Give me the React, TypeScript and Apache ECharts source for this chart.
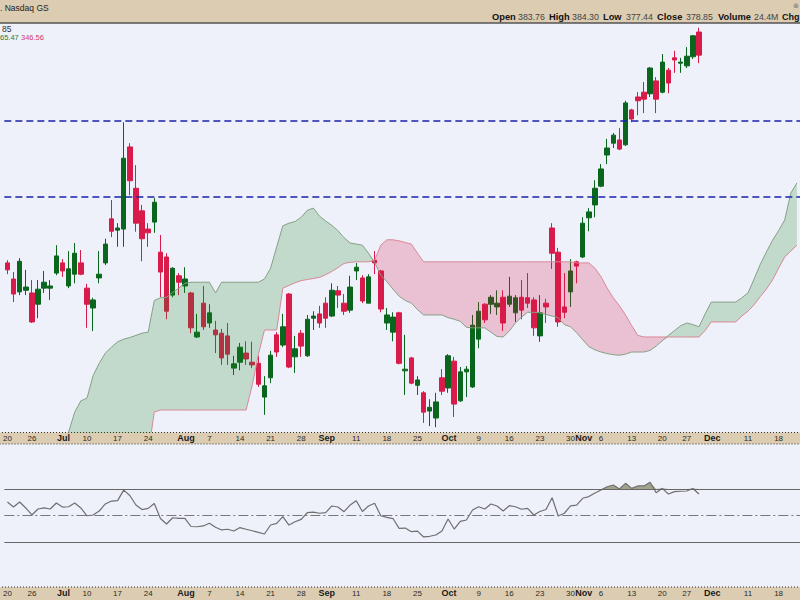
import { useEffect, useRef } from 'react';
import * as echarts from 'echarts';

const START = '2023-06-20';
const END = '2023-12-21';
const HOLIDAYS = ['2023-07-04', '2023-09-04', '2023-11-23'];

// [open, close, low, high]
const OHLC: number[][] = [
  [340.5, 339.2, 338.4, 341.0], [337.5, 334.7, 333.2, 338.8], [335.1, 340.8, 334.5, 341.4], [335.4, 336.0, 334.5, 339.2],
  [334.9, 329.5, 329.3, 337.3], [332.8, 335.6, 330.2, 337.3], [335.8, 336.9, 334.9, 339.0], [335.8, 336.2, 333.6, 337.3],
  [338.6, 341.8, 338.2, 343.8], [340.5, 339.0, 337.9, 341.2], [336.2, 339.4, 335.8, 342.7], [338.4, 342.3, 336.7, 344.2],
  [340.5, 338.4, 338.2, 342.9], [335.8, 332.8, 328.4, 336.6], [332.1, 333.6, 327.8, 334.0], [337.7, 338.4, 336.7, 342.7],
  [340.5, 344.0, 340.1, 345.0], [348.7, 346.4, 345.3, 352.2], [346.6, 347.0, 343.5, 347.9], [346.8, 360.0, 343.5, 366.7],
  [362.1, 355.8, 353.1, 362.8], [354.4, 347.9, 346.3, 358.7], [350.2, 345.0, 340.8, 351.3], [346.8, 346.1, 343.5, 347.9],
  [348.1, 351.8, 346.1, 352.6], [342.5, 338.8, 334.1, 345.7], [341.6, 331.5, 330.0, 342.3], [334.5, 339.5, 334.1, 339.7],
  [338.1, 336.9, 334.5, 338.6], [336.2, 337.5, 334.9, 339.7], [334.9, 328.4, 327.4, 335.1], [326.7, 327.6, 326.5, 331.0],
  [333.0, 328.6, 328.0, 336.2], [329.3, 331.2, 328.4, 332.8], [328.0, 327.1, 323.7, 329.7], [327.4, 322.8, 321.5, 328.2],
  [326.9, 323.5, 321.5, 329.3], [320.9, 321.7, 319.6, 323.2], [322.0, 324.8, 320.5, 325.6], [323.7, 322.6, 321.5, 325.9],
  [322.0, 321.5, 320.9, 325.8], [321.8, 317.9, 317.4, 323.2], [315.5, 317.6, 312.2, 319.4], [319.1, 323.3, 318.1, 324.1],
  [327.1, 323.9, 323.0, 327.6], [325.2, 328.6, 324.8, 331.0], [334.7, 321.1, 320.9, 334.9], [323.0, 324.5, 320.0, 326.9],
  [327.4, 325.0, 323.0, 328.0], [323.2, 330.0, 323.0, 330.8], [330.2, 330.6, 328.0, 331.5], [331.0, 329.3, 328.4, 332.5],
  [333.0, 330.2, 328.4, 334.1], [330.6, 335.4, 330.4, 336.7], [335.3, 334.5, 332.1, 336.2], [333.0, 331.5, 330.8, 334.7],
  [331.7, 336.0, 331.2, 338.1], [339.0, 339.7, 337.3, 340.5], [337.7, 333.4, 333.0, 338.2], [333.0, 337.9, 333.0, 338.4],
  [341.0, 340.5, 338.4, 342.7], [339.0, 331.9, 331.3, 339.2], [329.3, 330.8, 328.0, 332.1], [327.6, 330.4, 325.9, 331.3],
  [331.2, 321.8, 321.6, 331.4], [320.4, 320.7, 315.9, 327.1], [322.8, 318.1, 317.9, 323.0], [317.7, 318.7, 315.9, 319.4],
  [316.3, 312.7, 310.7, 316.6], [312.9, 313.6, 310.1, 315.1], [311.6, 314.6, 309.9, 316.3], [319.1, 316.6, 315.9, 320.7],
  [317.2, 323.2, 316.3, 323.5], [322.2, 314.2, 311.8, 323.0], [314.8, 320.2, 314.6, 321.1], [320.2, 320.7, 315.5, 321.3],
  [317.4, 328.9, 317.2, 330.8], [326.3, 331.5, 324.6, 333.2], [332.8, 329.9, 329.3, 333.0], [332.8, 334.1, 331.0, 334.5],
  [332.3, 333.0, 330.8, 335.4], [334.1, 329.3, 327.8, 335.4], [332.8, 334.3, 332.3, 337.9], [331.2, 334.0, 329.5, 334.5],
  [334.1, 331.7, 330.0, 337.3], [334.0, 333.0, 332.1, 338.6], [333.6, 328.4, 326.9, 334.1], [326.9, 331.2, 325.8, 334.5],
  [333.0, 332.3, 329.3, 333.8], [347.0, 342.3, 339.4, 347.9], [342.5, 329.5, 328.6, 343.3], [332.3, 331.3, 330.2, 338.6],
  [335.1, 339.0, 332.3, 341.2], [340.7, 339.9, 336.7, 340.9], [341.6, 347.9, 341.4, 349.0], [348.9, 350.0, 346.4, 350.7],
  [351.3, 354.4, 349.0, 355.9], [354.8, 358.0, 354.6, 358.9], [360.6, 361.9, 358.9, 363.6], [362.8, 364.3, 361.9, 364.7],
  [363.4, 361.7, 361.5, 365.6], [362.5, 370.3, 362.3, 370.7], [369.0, 367.3, 366.7, 369.2], [371.4, 370.7, 368.0, 372.3],
  [372.3, 371.0, 368.4, 374.2], [372.0, 376.8, 371.4, 377.0], [374.4, 371.0, 368.4, 375.1], [372.3, 377.9, 372.1, 379.4],
  [376.4, 374.0, 372.1, 376.8], [378.7, 378.3, 375.9, 380.0], [377.7, 377.9, 375.9, 378.7], [377.2, 379.0, 376.8, 380.7],
  [378.9, 382.8, 378.5, 382.9], [383.5, 379.2, 377.7, 384.3],
];

const SPAN_A: number[] = [
  298, 299, 300, 301, 302, 303, 304, 305, 306, 307.5,
  309.0, 312.7, 314.8, 315.3, 319.5, 321.8, 323.7, 324.8, 325.8, 326.3,
  326.6, 327.0, 327.4, 327.6, 333.5, 334.0, 334.1, 335.0, 335.8, 336.7,
  336.9, 336.9, 336.9, 336.9, 334.9, 336.9, 336.9, 336.9, 336.9, 336.9,
  336.9, 336.9, 337.5, 339.5, 343.5, 347.4, 347.9, 348.2, 349.0, 350.3,
  350.7, 349.2, 348.3, 347.5, 346.5, 345.2, 344.2, 344.0, 343.8, 342.3,
  340.6, 338.2, 337.0, 335.6, 334.3, 333.5, 333.0, 331.8, 330.8, 330.8,
  330.8, 330.8, 330.3, 330.0, 329.6, 328.5, 328.4, 328.4, 328.4, 327.6,
  326.8, 326.7, 327.8, 329.3, 330.4, 331.3, 331.3, 331.2, 330.9, 330.6,
  330.3, 329.0, 328.6, 327.5, 326.2, 324.9, 324.3, 323.9, 323.6, 323.4,
  323.3, 323.5, 323.9, 323.9, 323.9, 324.2, 325.0, 326.0, 327.0, 327.9,
  328.8, 329.3, 329.0, 328.6, 331.0, 333.2, 333.2, 333.2, 333.2, 333.2,
  334.0, 334.9, 337.5, 340.2, 342.5, 344.7, 346.5, 348.5, 353.5, 355.4,
];

const SPAN_B: number[] = [
  295, 295, 295, 295, 295, 295, 295, 295, 295, 295,
  295, 295, 295, 295, 295, 295, 295, 295, 295, 295,
  295, 295, 295, 305, 312.7, 313.1, 313.1, 313.1, 313.1, 313.1,
  313.1, 313.1, 313.1, 313.1, 313.1, 313.1, 313.1, 313.1, 313.1, 313.1,
  317.7, 323.4, 328.0, 328.0, 328.0, 335.8, 336.3, 336.8, 337.2, 337.4,
  337.6, 337.8, 338.3, 338.9, 339.6, 340.4, 340.6, 340.7, 340.7, 340.7,
  341.0, 343.8, 344.8, 344.8, 344.6, 344.3, 344.0, 342.3, 340.7, 340.7,
  340.7, 340.7, 340.7, 340.7, 340.7, 340.7, 340.7, 340.7, 340.7, 340.7,
  340.7, 340.7, 340.7, 340.7, 340.7, 340.7, 340.7, 340.7, 340.7, 340.7,
  340.7, 340.7, 340.7, 340.5, 340.5, 340.5, 339.5, 337.9, 335.8, 334.0,
  332.5, 330.8, 328.8, 327.0, 326.7, 326.7, 326.7, 326.7, 326.7, 326.7,
  326.7, 326.7, 326.7, 326.7, 327.9, 329.5, 329.5, 329.5, 329.5, 329.5,
  330.6, 331.5, 332.7, 334.2, 335.6, 337.3, 339.5, 341.6, 342.7, 343.8,
];

const RSI: number[] = [
  60.2, 56.4, 60.2, 55.7, 50.4, 54.9, 55.7, 54.9, 59.4, 56.4,
  56.6, 59.4, 55.7, 49.8, 50.4, 53.4, 58.7, 60.9, 61.2, 69.2,
  65.1, 57.9, 54.5, 55.4, 59.1, 47.7, 43.6, 48.3, 47.9, 47.9,
  41.7, 41.5, 42.1, 44.1, 41.1, 39.1, 39.6, 38.3, 40.9, 39.6,
  38.5, 37.2, 36.0, 42.8, 44.1, 49.1, 42.8, 45.3, 47.1, 52.1,
  52.6, 51.7, 52.1, 57.2, 56.4, 52.9, 57.9, 61.2, 53.0, 57.2,
  59.2, 49.8, 48.6, 47.7, 40.3, 40.5, 37.8, 38.2, 33.8, 34.3,
  35.3, 38.3, 47.4, 39.8, 45.6, 46.6, 54.2, 56.6, 54.9, 58.7,
  57.2, 53.4, 57.4, 56.6, 54.7, 55.4, 50.4, 53.0, 54.5, 63.4,
  49.6, 51.7, 57.2, 57.9, 63.0, 64.3, 67.0, 69.2, 71.7, 73.0,
  70.0, 74.3, 70.5, 72.3, 72.3, 75.1, 67.2, 70.5, 66.2, 68.0,
  68.3, 68.5, 70.4, 66.2,
];

const LEVELS: number[] = [366.9, 352.8];
const RSI_LINES: number[] = [70, 50, 30];

const TICK_LABELS: [string, string][] = [
  ['2023-06-20', '20'], ['2023-06-26', '26'], ['2023-07-03', 'Jul'], ['2023-07-10', '10'],
  ['2023-07-17', '17'], ['2023-07-24', '24'], ['2023-08-01', 'Aug'], ['2023-08-07', '7'],
  ['2023-08-14', '14'], ['2023-08-21', '21'], ['2023-08-28', '28'], ['2023-09-01', 'Sep'],
  ['2023-09-11', '11'], ['2023-09-18', '18'], ['2023-09-25', '25'], ['2023-10-02', 'Oct'],
  ['2023-10-09', '9'], ['2023-10-16', '16'], ['2023-10-23', '23'], ['2023-10-30', '30'],
  ['2023-11-01', 'Nov'], ['2023-11-06', '6'], ['2023-11-13', '13'], ['2023-11-20', '20'],
  ['2023-11-27', '27'], ['2023-12-01', 'Dec'], ['2023-12-11', '11'], ['2023-12-18', '18'],
];
const MONTHS = ['Jul', 'Aug', 'Sep', 'Oct', 'Nov', 'Dec'];

const HEADER_ITEMS: [string, string][] = [
  ['Open', '383.76'], ['High', '384.30'], ['Low', '377.44'], ['Close', '378.85'], ['Volume', '24.4M'],
];

function tradingDays(): string[] {
  const out: string[] = [];
  const d = new Date(START + 'T00:00:00Z');
  const end = new Date(END + 'T00:00:00Z');
  while (d <= end) {
    const s = d.toISOString().slice(0, 10);
    const wd = d.getUTCDay();
    if (wd !== 0 && wd !== 6 && !HOLIDAYS.includes(s)) out.push(s);
    d.setUTCDate(d.getUTCDate() + 1);
  }
  return out;
}

const FONT = '"Liberation Sans", Arial, sans-serif';
const TAN = '#dccdb2';
const BG = '#eef0fa';
const GREEN = '#0a661c';
const RED = '#d81b4a';

export default function App() {
  const ref = useRef<HTMLDivElement>(null);
  useEffect(() => {
    const chart = echarts.init(ref.current!, null, { renderer: 'svg' });
    const dates = tradingDays();
    const labelMap = new Map(TICK_LABELS);
    const cloudBase = SPAN_A.map((a, i) => Math.min(a, SPAN_B[i]));
    const greenD = SPAN_A.map((a, i) => Math.max(a - SPAN_B[i], 0));
    const redD = SPAN_A.map((a, i) => Math.max(SPAN_B[i] - a, 0));
    const rsiBase = RSI.map(() => 70);
    const rsiOver = RSI.map((v) => Math.max(v - 70, 0));

    const bandW = 6.207;
    const gridLeft = -4.5;
    const gridWidth = dates.length * bandW;

    const axisLabel = {
      interval: 0,
      margin: 6,
      verticalAlign: 'middle',
      formatter: (v: string) => {
        const t = labelMap.get(v);
        if (!t) return '';
        return MONTHS.includes(t) ? `{b|${t}}` : `{n|${t}}`;
      },
      rich: {
        b: { fontFamily: FONT, fontSize: 9, fontWeight: 'bold', color: '#1a1a1a', padding: [0, 0, 0, 2] },
        n: { fontFamily: FONT, fontSize: 8, color: '#2a2a2a' },
      },
    };

    const hidden = { lineStyle: { opacity: 0 }, symbol: 'none', silent: true };

    const headerTexts: any[] = [];
    const headerX = [[492, 518], [549, 572], [603, 626], [657, 686], [718, 754]];
    HEADER_ITEMS.forEach(([lab, val], i) => {
      headerTexts.push({
        type: 'text', x: headerX[i][0], y: 17, z: 20,
        style: { text: lab, fontFamily: FONT, fontSize: 9.3, fontWeight: 'bold', fill: '#111', verticalAlign: 'middle' },
      });
      headerTexts.push({
        type: 'text', x: headerX[i][1], y: 17, z: 20,
        style: { text: val, fontFamily: FONT, fontSize: 8.8, fill: '#444', verticalAlign: 'middle' },
      });
    });
    headerTexts.push({
      type: 'text', x: 782, y: 17, z: 20,
      style: { text: 'Chg', fontFamily: FONT, fontSize: 9, fontWeight: 'bold', fill: '#111', verticalAlign: 'middle' },
    });

    chart.setOption({
      animation: false,
      backgroundColor: BG,
      grid: [
        { left: gridLeft, top: 24, width: gridWidth, height: 408 },
        { left: gridLeft, top: 444, width: gridWidth, height: 143 },
      ],
      xAxis: [
        { type: 'category', gridIndex: 0, data: dates, boundaryGap: true, axisLine: { show: false }, axisTick: { show: false }, splitLine: { show: false }, axisLabel, z: 10 },
        { type: 'category', gridIndex: 1, data: dates, boundaryGap: true, axisLine: { show: false }, axisTick: { show: false }, splitLine: { show: false }, axisLabel, z: 10 },
      ],
      yAxis: [
        { type: 'value', gridIndex: 0, min: 309, max: 385, show: false, splitLine: { show: false } },
        { type: 'value', gridIndex: 1, min: -4, max: 104, show: false, splitLine: { show: false } },
      ],
      graphic: [
        { type: 'rect', z: -1, shape: { x: 0, y: 0, width: 800, height: 23 }, style: { fill: TAN } },
        { type: 'line', z: -1, shape: { x1: 0, y1: 23, x2: 800, y2: 23 }, style: { stroke: '#555', lineWidth: 1.5 } },
        { type: 'rect', z: -1, shape: { x: -1, y: 432.5, width: 802, height: 11.5 }, style: { fill: TAN, stroke: '#333', lineWidth: 1, lineDash: [1, 2] } },
        { type: 'rect', z: -1, shape: { x: -1, y: 587, width: 802, height: 14 }, style: { fill: TAN, stroke: '#333', lineWidth: 1, lineDash: [1, 2] } },
        { type: 'text', x: 0, y: 8, z: 20, style: { text: '. Nasdaq GS', fontFamily: FONT, fontSize: 8.5, fill: '#222', verticalAlign: 'middle' } },
        { type: 'text', x: 793, y: 5, z: 20, style: { text: '⊗', fontFamily: FONT, fontSize: 7, fill: '#777', verticalAlign: 'middle' } },
        { type: 'text', x: 2, y: 28.5, z: 20, style: { text: '85', fontFamily: FONT, fontSize: 8.5, fill: '#333', verticalAlign: 'middle' } },
        { type: 'text', x: 0, y: 37.5, z: 20, style: { text: '65.47', fontFamily: FONT, fontSize: 7.5, fill: '#2e7d32', verticalAlign: 'middle' } },
        { type: 'text', x: 21, y: 37.5, z: 20, style: { text: '346.56', fontFamily: FONT, fontSize: 7.5, fill: '#d03a6a', verticalAlign: 'middle' } },
        ...headerTexts,
      ],
      series: [
        {
          type: 'candlestick', xAxisIndex: 0, yAxisIndex: 0, data: OHLC, barWidth: 5, z: 2,
          itemStyle: { color: GREEN, color0: RED, borderColor: GREEN, borderColor0: RED, borderColorDoji: GREEN, borderWidth: 1 },
          markLine: {
            silent: true, symbol: ['none', 'none'], label: { show: false },
            lineStyle: { color: '#1a22a8', width: 1.6, type: [7, 4] },
            data: LEVELS.map((v) => ({ yAxis: v })),
          },
        },
        { type: 'line', xAxisIndex: 0, yAxisIndex: 0, data: cloudBase, stack: 'g', z: 3, ...hidden },
        { type: 'line', xAxisIndex: 0, yAxisIndex: 0, data: greenD, stack: 'g', z: 3, ...hidden, areaStyle: { color: 'rgba(34,139,34,0.3)' } },
        { type: 'line', xAxisIndex: 0, yAxisIndex: 0, data: cloudBase, stack: 'r', z: 3, ...hidden },
        { type: 'line', xAxisIndex: 0, yAxisIndex: 0, data: redD, stack: 'r', z: 3, ...hidden, areaStyle: { color: 'rgba(220,20,60,0.3)' } },
        { type: 'line', xAxisIndex: 0, yAxisIndex: 0, data: SPAN_A, z: 4, symbol: 'none', silent: true, lineStyle: { color: '#86a086', width: 1 } },
        { type: 'line', xAxisIndex: 0, yAxisIndex: 0, data: SPAN_B, z: 4, symbol: 'none', silent: true, lineStyle: { color: '#d88898', width: 1 } },
        { type: 'line', xAxisIndex: 1, yAxisIndex: 1, data: rsiBase, stack: 'o', z: 3, ...hidden },
        { type: 'line', xAxisIndex: 1, yAxisIndex: 1, data: rsiOver, stack: 'o', z: 3, ...hidden, areaStyle: { color: '#a3a38c', opacity: 1 } },
        {
          type: 'line', xAxisIndex: 1, yAxisIndex: 1, data: RSI, z: 4, symbol: 'none', silent: true,
          lineStyle: { color: '#6f6f6f', width: 1.2 },
          markLine: {
            silent: true, symbol: ['none', 'none'], label: { show: false },
            data: RSI_LINES.map((v) => ({
              yAxis: v,
              lineStyle: v === 50
                ? { color: '#777', width: 1, type: [10, 3, 2, 3] }
                : { color: '#666', width: 1.2, type: 'solid' },
            })),
          },
        },
      ],
    });
    return () => chart.dispose();
  }, []);
  return <div ref={ref} style={{ position: 'fixed', left: 0, top: 0, width: 800, height: 600 }} />;
}
